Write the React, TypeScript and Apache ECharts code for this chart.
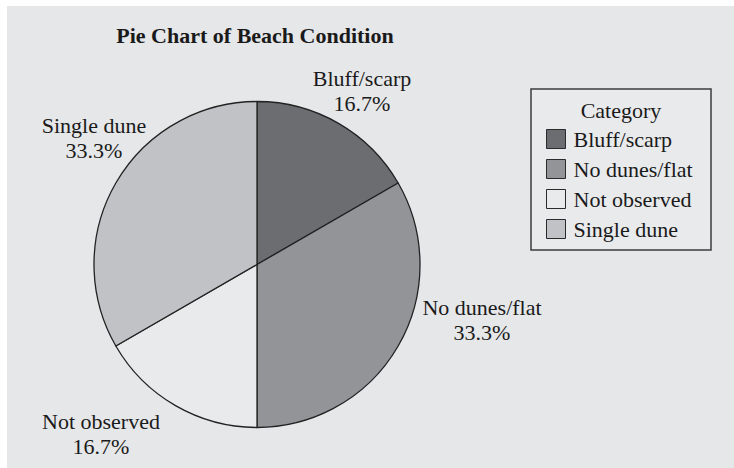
import React, { useEffect, useRef } from "react";
import * as echarts from "echarts";

const categories = ["Bluff/scarp", "No dunes/flat", "Not observed", "Single dune"];
const counts = [1, 2, 1, 2];
const sliceColors = ["#6c6d71", "#939498", "#e9eaec", "#c1c2c6"];
const titleText = "Pie Chart of Beach Condition";
const legendTitle = "Category";

// label anchor points (layout only)
const LABEL_POS: Record<string, [number, number]> = {
  "Bluff/scarp": [362, 91],
  "No dunes/flat": [482, 320],
  "Not observed": [101, 434],
  "Single dune": [94, 138],
};

const FONT = '"Liberation Serif", "DejaVu Serif", serif';

export default function App() {
  const ref = useRef<HTMLDivElement>(null);
  useEffect(() => {
    const chart = echarts.init(ref.current!, null, { renderer: "svg" });
    chart.setOption({
      animation: false,
      backgroundColor: "#ffffff",
      graphic: [
        {
          type: "rect",
          z: -10,
          shape: { x: 7, y: 6, width: 727, height: 462 },
          style: { fill: "#e6e7e9" },
        },
        {
          type: "rect",
          z: -5,
          shape: { x: 531, y: 89, width: 180, height: 161 },
          style: { fill: "#e9eaec", stroke: "#3c3c3c", lineWidth: 1.5 },
        },
        {
          type: "text",
          z: 5,
          x: 255,
          y: 35,
          style: {
            text: titleText,
            font: `bold 22px ${FONT}`,
            fill: "#1a1a1a",
            textAlign: "center",
            textVerticalAlign: "middle",
          },
        },
        {
          type: "text",
          z: 5,
          x: 621,
          y: 110,
          style: {
            text: legendTitle,
            font: `22px ${FONT}`,
            fill: "#1a1a1a",
            textAlign: "center",
            textVerticalAlign: "middle",
          },
        },
      ],
      legend: {
        orient: "vertical",
        left: 546,
        top: 128,
        padding: 0,
        itemWidth: 19,
        itemHeight: 19,
        itemGap: 8,
        icon: "rect",
        data: categories,
        textStyle: {
          fontFamily: FONT,
          fontSize: 22,
          color: "#1a1a1a",
          padding: [0, 0, 0, 3],
        },
        itemStyle: { borderColor: "#2a2a2a", borderWidth: 1 },
      },
      series: [
        {
          type: "pie",
          center: [257, 264.5],
          radius: 163,
          startAngle: 90,
          clockwise: true,
          percentPrecision: 1,
          data: categories.map((name, i) => ({
            name,
            value: counts[i],
            itemStyle: { color: sliceColors[i] },
          })),
          itemStyle: { borderColor: "#222222", borderWidth: 1.3 },
          label: {
            show: true,
            position: "outside",
            overflow: "none",
            formatter: "{b}\n{d}%",
            fontFamily: FONT,
            fontSize: 22,
            lineHeight: 25,
            color: "#1a1a1a",
          },
          labelLine: { show: false },
          labelLayout: (params: any) => {
            const name = categories[params.dataIndex];
            const p = LABEL_POS[name];
            return { x: p[0], y: p[1], align: "center", verticalAlign: "middle" };
          },
          emphasis: { disabled: true },
        },
      ],
    });
    return () => chart.dispose();
  }, []);
  return (
    <div
      ref={ref}
      style={{ position: "fixed", left: 0, top: 0, width: 734, height: 468 }}
    />
  );
}
